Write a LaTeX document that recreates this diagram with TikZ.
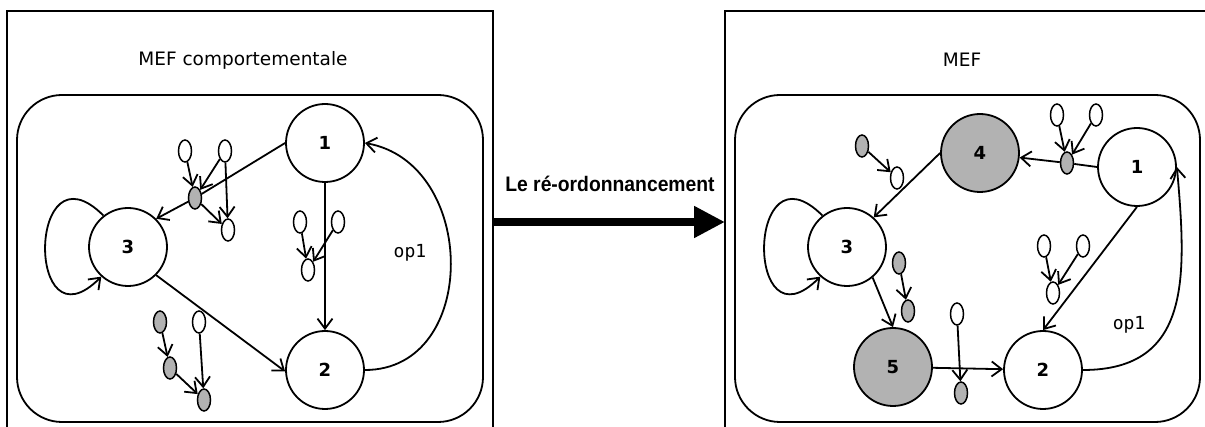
\documentclass[tikz,border=0pt]{standalone}
\usepackage{fontspec}
\usepackage{graphicx}
\setmainfont{DejaVu Sans}
\newfontfamily\opfont{DejaVu Sans Mono}
\newfontfamily\titlefont{Liberation Sans}
\usetikzlibrary{shapes.geometric,arrows.meta}

\begin{document}
\begin{tikzpicture}[x=1pt,y=1pt,line width=1.8pt,
    >={Straight Barb[length=10pt,width=15pt]},
    state/.style={circle,draw,fill=white,minimum size=78pt,inner sep=0pt,
      font=\fontsize{18}{18}\selectfont\bfseries},
    hot/.style={state,fill=gray!60},
    ev/.style={ellipse,draw,fill=white,minimum width=13pt,minimum height=22pt,
      inner sep=0pt,line width=1.5pt},
    evg/.style={ev,fill=gray!60},
    title/.style={font=\fontsize{18.5}{20}\selectfont},
    oplabel/.style={font=\opfont\fontsize{18}{18}\selectfont}]
  \useasboundingbox (0,0) rectangle (1205,-427);

  % boxes
  \draw[line width=2pt] (7,-432) -- (7,-11) -- (493,-11) -- (493,-432);
  \draw[line width=2pt] (725,-432) -- (725,-11) -- (1212,-11);
  \draw[rounded corners=45pt] (17,-95) rectangle (483,-422);
  \draw[rounded corners=45pt] (735,-95) rectangle (1200,-422);
  \node[title] (tl) at (243,-60) {MEF comportementale};
  \node[title] (tr) at (962,-60) {MEF};

  % transformation arrow
  \coordinate (from) at (493,-222);
  \coordinate (into) at (725,-222);
  \draw[line width=8pt,-{Triangle[length=31pt,width=30pt]}] (from) -- (into);
  \node[anchor=base] (lbl) at (610,-192)
    {\titlefont\bfseries\fontsize{21}{21}\selectfont\scalebox{0.92}[1]{Le ré-ordonnancement}};

  % left machine
  \path
  (325,-143) node[state](l1) {1}
  (325,-370) node[state](l2) {2}
  (128,-247) node[state](l3) {3}
  (185,-151) node[ev](la1) {}
  (225,-151) node[ev](la2) {}
  (195,-198) node[evg](lg1) {}
  (228,-230) node[ev](la3) {}
  (300,-222) node[ev](lb1) {}
  (338,-222) node[ev](lb2) {}
  (308,-270) node[ev](lb3) {}
  (160,-322) node[evg](lc1) {}
  (199,-322) node[ev](lc2) {}
  (170,-368) node[evg](lc3) {}
  (204,-400) node[evg](lc4) {};

  \draw (l1.west) -- (lg1);
  \draw[->] (lg1) -- (l3.45);
  \draw[->] (l1) -- (l2);
  \draw[->] (l3.-45) -- (l2.182);
  \draw[->] (l3.128) to[out=135,in=225,looseness=4.5] (l3.228);
  \draw[->] (l2.east) to[out=0,in=-10,looseness=1.3] (l1.east);
  \node[oplabel] (lop) at (410,-253) {op1};
  \draw[->] (la1) -- (lg1);
  \draw[->] (la2) -- (lg1);
  \draw[->] (la2) -- (la3);
  \draw[->] (lg1) -- (la3);
  \draw[->] (lb1) -- (lb3);
  \draw[->] (lb2) -- (lb3);
  \draw[->] (lc1) -- (lc3);
  \draw[->] (lc3) -- (lc4);
  \draw[->] (lc2) -- (lc4);

  % right machine
  \path
  (1137,-167) node[state](r1) {1}
  (1043,-370) node[state](r2) {2}
  (847,-247) node[state](r3) {3}
  (980,-153) node[hot](r4) {4}
  (893,-367) node[hot](r5) {5}
  (1067,-163) node[evg](rd1) {}
  (1057,-115) node[ev](rd2) {}
  (1096,-115) node[ev](rd3) {}
  (862,-146) node[evg](re1) {}
  (897,-178) node[ev](re2) {}
  (899,-263) node[evg](rf1) {}
  (908,-311) node[evg](rf2) {}
  (957,-314) node[ev](rh1) {}
  (961,-393) node[evg](rh2) {}
  (1044,-246) node[ev](rk1) {}
  (1083,-246) node[ev](rk2) {}
  (1053,-293) node[ev](rk3) {};

  \draw (r1.west) -- (rd1);
  \draw[->] (rd1) -- (r4);
  \draw[->] (r4.west) -- (r3.48);
  \draw[->] (r3.-50) -- (r5.north);
  \draw[->] (r5) -- (r2);
  \draw[->] (r1.south) -- (r2.north);
  \draw[->] (r3.128) to[out=135,in=225,looseness=4.5] (r3.228);
  \draw[->] (r2.east) to[out=0,in=-85,looseness=1.25] (r1.east);
  \node[oplabel] (rop) at (1129,-325) {op1};
  \draw[->] (rd2) -- (rd1);
  \draw[->] (rd3) -- (rd1);
  \draw[->] (re1) -- (re2);
  \draw[->] (rf1) -- (rf2);
  \draw[->] (rh1) -- (rh2);
  \draw[->] (rk1) -- (rk3);
  \draw[->] (rk2) -- (rk3);
\end{tikzpicture}
\end{document}
